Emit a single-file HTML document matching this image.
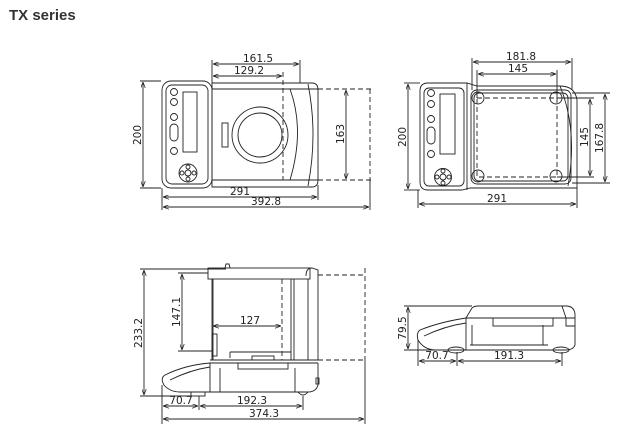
<!DOCTYPE html>
<html><head><meta charset="utf-8"><style>
html,body{margin:0;padding:0;background:#fff;}
svg{display:block;}
text{font-family:"DejaVu Sans","Liberation Sans",sans-serif;fill:#222;font-size:10.5px;}
</style></head><body>
<svg width="629" height="433" viewBox="0 0 629 433" xmlns="http://www.w3.org/2000/svg">
<defs>
<marker id="a" viewBox="0 0 8 6" refX="8" refY="3" markerWidth="7" markerHeight="5" orient="auto-start-reverse"><path d="M0,0 L8,3 L0,6" fill="none" stroke="#222" stroke-width="1"/></marker>
</defs>
<text x="9" y="20" style="font-family:'Liberation Sans',sans-serif;font-weight:bold;font-size:15px;fill:#333">TX series</text>

<g stroke="#222" stroke-width="0.9" fill="none">
<!-- ===== Top-left view ===== -->
<rect x="162" y="81" width="50" height="107" rx="9"/>
<rect x="166" y="85" width="42" height="99" rx="6"/>
<circle cx="174" cy="92" r="3.5"/><circle cx="174" cy="102" r="3.5"/><circle cx="174" cy="117" r="3.5"/>
<rect x="170" y="124" width="8" height="17" rx="4"/><circle cx="174" cy="151" r="3.5"/>
<rect x="183" y="92" width="14" height="60"/>
<circle cx="188" cy="173" r="9"/><circle cx="188" cy="173" r="3"/>
<circle cx="188" cy="167" r="2"/><circle cx="188" cy="179" r="2"/><circle cx="182" cy="173" r="2"/><circle cx="194" cy="173" r="2"/>
<path d="M212,83 L312,83 Q318,83 318,90 L318,180 Q318,187 312,187 L212,187 Z"/>
<line x1="212" y1="89" x2="318" y2="89"/><line x1="212" y1="180" x2="318" y2="180"/>
<path d="M290,89 Q305,130 290,180"/>
<path d="M308,84 Q318,134 308,186"/>
<circle cx="260" cy="135" r="28"/><circle cx="260" cy="135" r="22"/>
<rect x="222" y="123" width="6" height="24"/>
<line x1="161" y1="81" x2="140" y2="81"/><line x1="161" y1="188" x2="140" y2="188"/>
<line x1="143" y1="82" x2="143" y2="187" marker-start="url(#a)" marker-end="url(#a)"/>
<line x1="212" y1="60" x2="212" y2="83"/><line x1="300" y1="60" x2="300" y2="83"/>
<line x1="213" y1="64" x2="299" y2="64" marker-start="url(#a)" marker-end="url(#a)"/>
<line x1="213" y1="76" x2="282" y2="76" marker-start="url(#a)" marker-end="url(#a)"/>
<line x1="283" y1="72" x2="283" y2="180" stroke-dasharray="5,3"/>
<line x1="318" y1="89" x2="372" y2="89" stroke-dasharray="5,3"/>
<line x1="318" y1="180" x2="372" y2="180" stroke-dasharray="5,3"/>
<line x1="370" y1="89" x2="370" y2="180" stroke-dasharray="5,3"/>
<line x1="346" y1="90" x2="346" y2="179" marker-start="url(#a)" marker-end="url(#a)"/>
<line x1="162" y1="188" x2="162" y2="210"/><line x1="318" y1="185" x2="318" y2="200"/><line x1="370" y1="180" x2="370" y2="210"/>
<line x1="163" y1="197" x2="317" y2="197" marker-start="url(#a)" marker-end="url(#a)"/>
<line x1="163" y1="207" x2="369" y2="207" marker-start="url(#a)" marker-end="url(#a)"/>

<!-- ===== Top-right view ===== -->
<path d="M428,83 L467,83 L477,86 L560,86 Q575,86 577,100 L577,188 L470,188 L462,190 L428,190 Q420,190 420,182 L420,91 Q420,83 428,83 Z"/>
<path d="M467,83 L467,190"/>
<rect x="424" y="88" width="40" height="98" rx="5"/>
<circle cx="431" cy="93" r="3.5"/><circle cx="431" cy="104" r="3.5"/><circle cx="431" cy="119" r="3.5"/>
<rect x="427" y="127" width="8" height="17" rx="4"/><circle cx="431" cy="154" r="3.5"/>
<rect x="440" y="94" width="15" height="60"/>
<circle cx="443" cy="177" r="8.5"/><circle cx="443" cy="177" r="3"/>
<circle cx="443" cy="171" r="2"/><circle cx="443" cy="183" r="2"/><circle cx="437" cy="177" r="2"/><circle cx="449" cy="177" r="2"/>
<rect x="471" y="90" width="100" height="94" rx="6"/>
<rect x="474" y="93" width="94" height="88" rx="5"/>
<path d="M560,86 Q578,130 568,186"/>
<rect x="477" y="98" width="80" height="79" stroke-dasharray="5,3"/>
<circle cx="478" cy="98" r="6"/><circle cx="556" cy="98" r="6"/><circle cx="478" cy="176" r="6"/><circle cx="556" cy="176" r="6"/>
<line x1="472" y1="58" x2="472" y2="90"/><line x1="572" y1="58" x2="572" y2="90"/>
<line x1="473" y1="62" x2="571" y2="62" marker-start="url(#a)" marker-end="url(#a)"/>
<line x1="477" y1="70" x2="477" y2="98"/><line x1="557" y1="70" x2="557" y2="98"/>
<line x1="478" y1="74" x2="556" y2="74" marker-start="url(#a)" marker-end="url(#a)"/>
<line x1="557" y1="98" x2="594" y2="98"/><line x1="557" y1="177" x2="594" y2="177"/>
<line x1="590" y1="99" x2="590" y2="176" marker-start="url(#a)" marker-end="url(#a)"/>
<line x1="572" y1="93" x2="610" y2="93"/><line x1="572" y1="183" x2="610" y2="183"/>
<line x1="605" y1="94" x2="605" y2="182" marker-start="url(#a)" marker-end="url(#a)"/>
<line x1="420" y1="83" x2="404" y2="83"/><line x1="420" y1="190" x2="404" y2="190"/>
<line x1="408" y1="84" x2="408" y2="189" marker-start="url(#a)" marker-end="url(#a)"/>
<line x1="418" y1="190" x2="418" y2="208"/><line x1="577" y1="188" x2="577" y2="208"/>
<line x1="419" y1="204" x2="576" y2="204" marker-start="url(#a)" marker-end="url(#a)"/>

<!-- ===== Bottom-left side view ===== -->
<rect x="208" y="268" width="102" height="11"/>
<path d="M225,268 L226,264 L229,264 L230,268"/>
<path d="M306,276 Q306,268 312,268 L318,270 L318,278"/>
<line x1="212" y1="279" x2="212" y2="360"/>
<line x1="213" y1="279" x2="213" y2="360"/>
<rect x="212" y="334" width="5" height="22"/>
<line x1="291" y1="279" x2="291" y2="360"/><line x1="294" y1="279" x2="294" y2="360"/>
<line x1="308" y1="279" x2="308" y2="360"/><line x1="318" y1="278" x2="318" y2="360"/>
<line x1="230" y1="352" x2="291" y2="352"/><line x1="230" y1="352" x2="230" y2="358"/>
<rect x="252" y="356" width="22" height="4"/>
<line x1="210" y1="360" x2="318" y2="360"/><line x1="210" y1="363" x2="318" y2="363"/>
<path d="M318,363 L318,385 Q316,392 308,392 L200,392"/>
<path d="M210,363 Q185,365 165,375 Q160,378 164,385 Q170,392 180,392 L200,392"/>
<path d="M210,367 Q190,370 170,380"/>
<line x1="210" y1="363" x2="210" y2="392"/>
<line x1="220" y1="368" x2="220" y2="392"/><line x1="295" y1="368" x2="295" y2="392"/>
<rect x="238" y="363" width="50" height="6"/>
<rect x="191" y="392" width="14" height="4"/>
<path d="M298,392 Q303,398 308,392"/>
<rect x="316" y="378" width="3" height="6"/>
<line x1="318" y1="275" x2="366" y2="275" stroke-dasharray="5,3"/>
<line x1="318" y1="360" x2="366" y2="360" stroke-dasharray="5,3"/>
<line x1="365" y1="268" x2="365" y2="360" stroke-dasharray="5,3"/>
<line x1="365" y1="360" x2="365" y2="424"/>
<line x1="282" y1="279" x2="282" y2="360" stroke-dasharray="5,3"/>
<line x1="213" y1="326" x2="281" y2="326" marker-start="url(#a)" marker-end="url(#a)"/>
<line x1="178" y1="273" x2="208" y2="273"/><line x1="178" y1="351" x2="212" y2="351"/>
<line x1="182" y1="274" x2="182" y2="350" marker-start="url(#a)" marker-end="url(#a)"/>
<line x1="140" y1="269" x2="226" y2="269"/><line x1="140" y1="396" x2="192" y2="396"/>
<line x1="144" y1="270" x2="144" y2="395" marker-start="url(#a)" marker-end="url(#a)"/>
<line x1="162" y1="385" x2="162" y2="424"/><line x1="199" y1="396" x2="199" y2="410"/><line x1="303" y1="396" x2="303" y2="410"/>
<line x1="163" y1="406" x2="198" y2="406" marker-start="url(#a)" marker-end="url(#a)"/>
<line x1="200" y1="406" x2="302" y2="406" marker-start="url(#a)" marker-end="url(#a)"/>
<line x1="163" y1="419" x2="364" y2="419" marker-start="url(#a)" marker-end="url(#a)"/>

<!-- ===== Bottom-right side view ===== -->
<path d="M466,318 L472,308 Q474,306 478,306 L566,306 Q574,306 575,314 L575,345 Q573,350 566,350"/>
<line x1="466" y1="318" x2="575" y2="318"/>
<path d="M562,306 L566,318 L566,326 L575,326"/>
<rect x="493" y="318" width="60" height="8"/>
<path d="M466,318 Q440,322 420,330 Q416,333 418,340 Q424,350 436,350 L566,350"/>
<path d="M466,323 Q445,326 424,336"/>
<line x1="466" y1="318" x2="466" y2="350"/>
<line x1="472" y1="325" x2="472" y2="345"/><line x1="543" y1="325" x2="543" y2="345"/>
<line x1="470" y1="345" x2="548" y2="345"/>
<ellipse cx="456" cy="350" rx="8" ry="3"/><ellipse cx="561" cy="350" rx="8" ry="3"/>
<line x1="404" y1="306" x2="472" y2="306"/><line x1="404" y1="350" x2="440" y2="350"/>
<line x1="408" y1="307" x2="408" y2="349" marker-start="url(#a)" marker-end="url(#a)"/>
<line x1="418" y1="340" x2="418" y2="366"/><line x1="457" y1="352" x2="457" y2="366"/><line x1="562" y1="352" x2="562" y2="366"/>
<line x1="419" y1="361" x2="456" y2="361" marker-start="url(#a)" marker-end="url(#a)"/>
<line x1="458" y1="361" x2="561" y2="361" marker-start="url(#a)" marker-end="url(#a)"/>
</g>

<!-- labels -->
<text x="258" y="62" text-anchor="middle">161.5</text>
<text x="249" y="74" text-anchor="middle">129.2</text>
<text x="240" y="195" text-anchor="middle">291</text>
<text x="266" y="205" text-anchor="middle">392.8</text>
<text transform="translate(141,135) rotate(-90)" text-anchor="middle">200</text>
<text transform="translate(344,134) rotate(-90)" text-anchor="middle">163</text>

<text x="521" y="60" text-anchor="middle">181.8</text>
<text x="518" y="72" text-anchor="middle">145</text>
<text x="497" y="202" text-anchor="middle">291</text>
<text transform="translate(406,137) rotate(-90)" text-anchor="middle">200</text>
<text transform="translate(588,137) rotate(-90)" text-anchor="middle">145</text>
<text transform="translate(603,138) rotate(-90)" text-anchor="middle">167.8</text>

<text transform="translate(142,333) rotate(-90)" text-anchor="middle">233.2</text>
<text transform="translate(180,312) rotate(-90)" text-anchor="middle">147.1</text>
<text x="250" y="324" text-anchor="middle">127</text>
<text x="181" y="404" text-anchor="middle">70.7</text>
<text x="252" y="404" text-anchor="middle">192.3</text>
<text x="264" y="417" text-anchor="middle">374.3</text>

<text transform="translate(406,328) rotate(-90)" text-anchor="middle">79.5</text>
<text x="437" y="359" text-anchor="middle">70.7</text>
<text x="509" y="359" text-anchor="middle">191.3</text>
</svg>
</body></html>
